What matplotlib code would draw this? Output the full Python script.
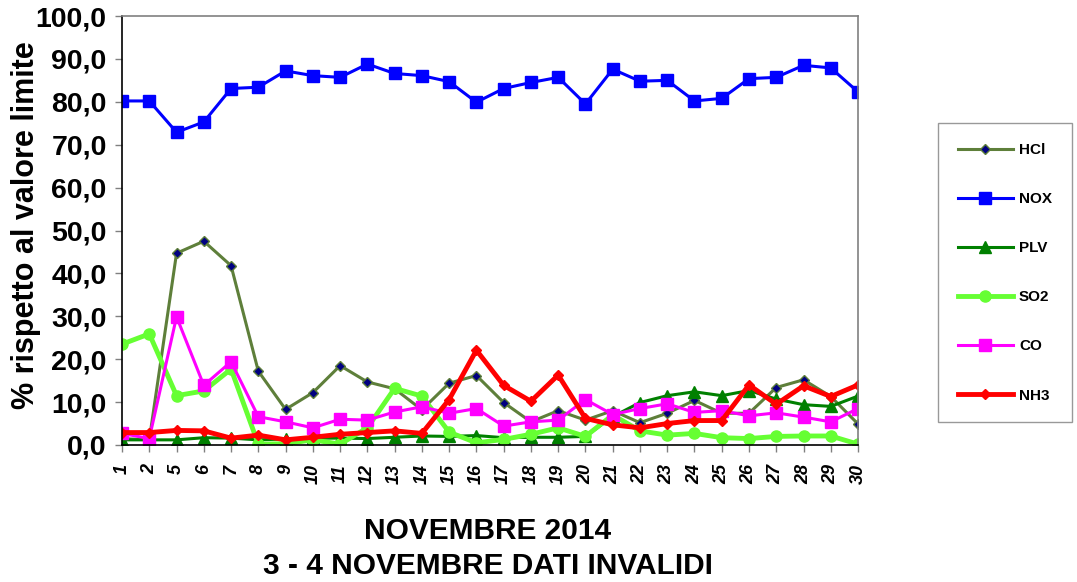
import matplotlib
matplotlib.use("Agg")
import matplotlib.pyplot as plt
from matplotlib.ticker import FuncFormatter

# Data ---------------------------------------------
days = ["1", "2", "5", "6", "7", "8", "9", "10", "11", "12", "13", "14", "15", "16",
        "17", "18", "19", "20", "21", "22", "23", "24", "25", "26", "27", "28", "29", "30"]

hcl = [1.5, 1.2, 44.7, 47.5, 41.8, 17.2, 8.3, 12.2, 18.5, 14.7, 13.1, 8.2, 14.4, 16.2,
       9.9, 5.4, 8.0, 5.8, 8.0, 5.2, 7.4, 10.4, 7.4, 7.4, 13.4, 15.2, 11.3, 4.9]
nox = [80.2, 80.2, 72.9, 75.3, 83.1, 83.4, 87.2, 86.1, 85.7, 88.8, 86.6, 86.1, 84.7, 79.9,
       83.1, 84.5, 85.7, 79.5, 87.6, 84.8, 85.0, 80.2, 80.8, 85.4, 85.7, 88.5, 87.9, 82.3]
plv = [1.2, 1.2, 1.2, 1.7, 1.6, 1.2, 1.4, 1.6, 1.6, 1.5, 1.8, 2.1, 2.0, 2.2,
       1.7, 1.8, 1.8, 2.0, 6.6, 9.9, 11.5, 12.4, 11.5, 12.7, 10.7, 9.4, 9.0, 11.4]
so2 = [23.5, 25.9, 11.5, 12.6, 17.7, 0.2, 0.3, 1.2, 0.2, 4.0, 13.2, 11.4, 3.0, 0.5,
       1.3, 2.5, 4.0, 2.0, 7.0, 3.3, 2.3, 2.7, 1.7, 1.5, 2.0, 2.1, 2.1, 0.2]
co = [2.7, 1.5, 29.9, 13.9, 19.4, 6.6, 5.4, 4.0, 6.0, 5.8, 7.7, 8.9, 7.4, 8.5,
      4.4, 5.4, 5.8, 10.6, 7.1, 8.5, 9.6, 7.6, 8.0, 6.8, 7.5, 6.5, 5.4, 8.5]
nh3 = [2.9, 2.9, 3.4, 3.3, 1.6, 2.3, 1.2, 1.8, 2.5, 2.9, 3.3, 2.7, 10.6, 22.1,
       13.9, 10.2, 16.3, 6.2, 4.7, 4.0, 5.0, 5.7, 5.7, 14.0, 9.5, 13.8, 11.3, 14.0]

yticks = [0, 10, 20, 30, 40, 50, 60, 70, 80, 90, 100]

# Styling ------------------------------------------
plt.rcParams["font.family"] = ["Liberation Sans", "DejaVu Sans"]
plt.rcParams["font.weight"] = "bold"

fig = plt.figure(figsize=(10.77, 5.82), dpi=100)
ax = fig.add_axes([0.1133, 0.2354, 0.6834, 0.7371])

x = list(range(len(days)))

ax.plot(x, hcl, color="#5E7F3A", lw=2.2, marker="D", ms=5,
        mfc="#000080", mec="#5E7F3A", mew=1, label="HCl")
ax.plot(x, nox, color="#0000FF", lw=2.2, marker="s", ms=8,
        mfc="#0000FF", mec="#0000FF", label="NOX")
ax.plot(x, plv, color="#008000", lw=2.2, marker="^", ms=8,
        mfc="#008000", mec="#008000", label="PLV")
ax.plot(x, so2, color="#66FF33", lw=3.5, marker="o", ms=8,
        mfc="#66FF33", mec="#66FF33", label="SO2")
ax.plot(x, co, color="#FF00FF", lw=2.2, marker="s", ms=9,
        mfc="#FF00FF", mec="#FF00FF", label="CO")
ax.plot(x, nh3, color="#FF0000", lw=3.5, marker="D", ms=5,
        mfc="#FF0000", mec="#FF0000", label="NH3")

# Axes ---------------------------------------------
ax.set_xlim(0, len(days) - 1)
ax.set_ylim(0, 100)
ax.set_yticks(yticks)
ax.yaxis.set_major_formatter(FuncFormatter(lambda v, p: f"{v:.1f}".replace(".", ",")))
ax.set_xticks(x)
ax.set_xticklabels(days, rotation=90, fontsize=13, fontweight="bold",
                   style="italic", va="top")
for lab in ax.get_yticklabels():
    lab.set_fontsize(20.5)
    lab.set_fontweight("bold")

ax.spines["left"].set_color("black")
ax.spines["bottom"].set_color("black")
ax.spines["top"].set_color("#808080")
ax.spines["right"].set_color("#808080")
for s in ax.spines.values():
    s.set_linewidth(1.2)
ax.tick_params(axis="both", direction="out", length=5, color="#808080", width=1)
ax.tick_params(axis="y", pad=6)
ax.tick_params(axis="x", pad=9)

# Labels -------------------------------------------
fig.text(0.024, 0.613, "% rispetto al valore limite", rotation=90, fontsize=22,
         fontweight="bold", ha="center", va="center")
fig.text(0.453, 1 - 531 / 582, "NOVEMBRE 2014", fontsize=21.5, fontweight="bold",
         ha="center", va="center")
fig.text(0.453, 1 - 566 / 582, "3 - 4 NOVEMBRE DATI INVALIDI", fontsize=21.5,
         fontweight="bold", ha="center", va="center")

leg = ax.legend(loc="upper left", bbox_to_anchor=(938 / 1077, 1 - 123 / 582),
                bbox_transform=fig.transFigure, fontsize=11, frameon=True,
                fancybox=False, borderpad=1.3, labelspacing=2.3, handlelength=3.6,
                handletextpad=0.4, borderaxespad=0)
leg.get_frame().set_edgecolor("#808080")
leg.get_frame().set_linewidth(1)
for t in leg.get_texts():
    t.set_fontweight("bold")

fig.savefig("out.png", dpi=100)
